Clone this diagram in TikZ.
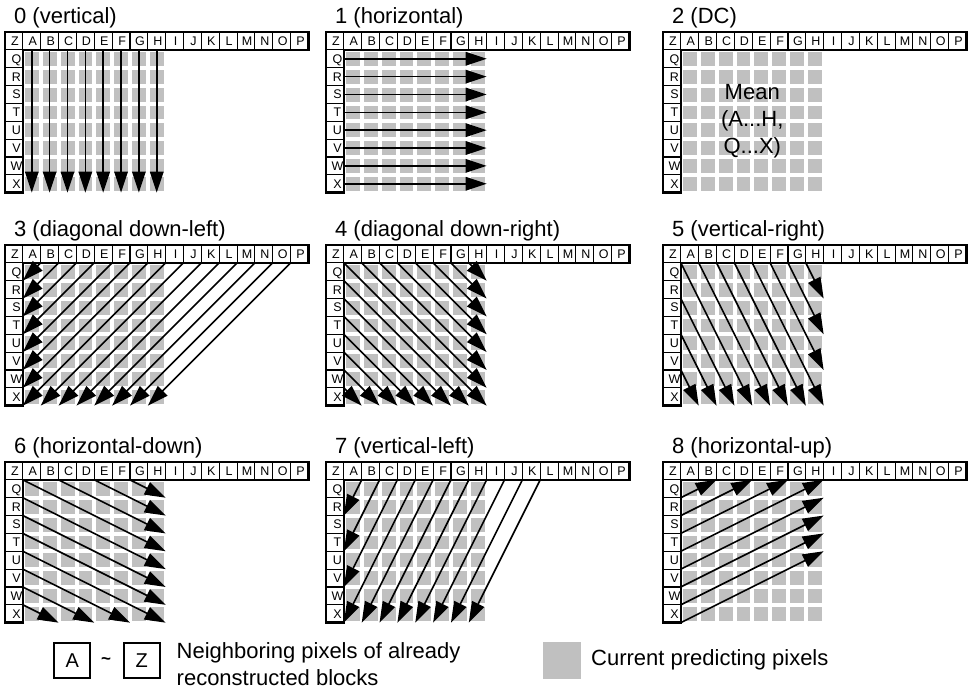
\documentclass[tikz,border=0pt]{standalone}
\usepackage{fontspec}
\setmainfont{Liberation Sans}
\usetikzlibrary{arrows.meta}
\definecolor{pixgray}{HTML}{C0C0C0}
\tikzset{
  arr/.style={line width=1.6pt, -{Triangle[length=21pt,width=13.5pt]}},
  thinline/.style={line width=1.1pt},
  thickline/.style={line width=2.4pt, line join=miter},
  letter/.style={inner sep=0pt, text height=9pt, text depth=0pt, font=\fontsize{12.5}{13}\selectfont},
  paneltitle/.style={anchor=base west, inner sep=0pt, font=\fontsize{22}{26}\selectfont},
  legendtext/.style={anchor=base west, inner sep=0pt, font=\fontsize{22}{26}\selectfont},
  legbox/.style={draw, line width=1.7pt, minimum width=36pt, minimum height=35pt, inner sep=0pt, font=\fontsize{20}{21}\selectfont},
  panelat/.style 2 args={xshift=#1pt, yshift=-#2pt, x=17.85pt, y=-17.85pt},
}
\newcommand\drawpanel[4]{%
  \begin{scope}[panelat={#1}{#2}]
    \node[paneltitle] (#3title) at (0.5,-0.45) {#4};
    \foreach \i in {1,...,8}{\foreach \j in {1,...,8}{
      \fill[pixgray] (\i+0.12,\j+0.12) rectangle +(0.78,0.78);}}
    \foreach \n in {1,...,16}{\draw[thinline] (\n,0) -- (\n,1);}
    \foreach \m in {1,...,8}{\draw[thinline] (0,\m) -- (1,\m);}
    \draw[thickline] (0,0) -- (17,0) -- (17,1) -- (1,1) -- (1,9) -- (0,9) -- cycle;
    \foreach \k [count=\n from 0] in {Z,A,B,C,D,E,F,G,H,I,J,K,L,M,N,O,P}{
      \node[letter] (#3h\k) at (\n+0.56,0.5) {\k};}
    \foreach \k [count=\m from 1] in {Q,R,S,T,U,V,W,X}{
      \node[letter] (#3v\k) at (0.64,\m+0.5) {\k};}
  \end{scope}}
\begin{document}
\begin{tikzpicture}[x=1pt,y=-1pt]
\useasboundingbox (0,0) rectangle (971,690);
\fill[white] (0,0) rectangle (971,690);

% row 1
\drawpanel{5}{32}{pa}{0 (vertical)}
\drawpanel{326}{32}{pb}{1 (horizontal)}
\drawpanel{663}{32}{pc}{2 (DC)}
% row 2
\drawpanel{5}{245}{pd}{3 (diagonal down-left)}
\drawpanel{326}{245}{pe}{4 (diagonal down-right)}
\drawpanel{663}{245}{pf}{5 (vertical-right)}
% row 3
\drawpanel{5}{462}{pg}{6 (horizontal-down)}
\drawpanel{326}{462}{ph}{7 (vertical-left)}
\drawpanel{663}{462}{pi}{8 (horizontal-up)}

% 0 vertical
\begin{scope}[panelat={5}{32}]
  \foreach \i in {1,...,8}{\draw[arr] (\i+0.5,1) -- (\i+0.5,9);}
\end{scope}
% 1 horizontal
\begin{scope}[panelat={326}{32}]
  \foreach \j in {1,...,8}{\draw[arr] (1,\j+0.5) -- (9,\j+0.5);}
\end{scope}
% 2 DC
\begin{scope}[panelat={663}{32}]
  \node[align=center, inner sep=0pt, font=\fontsize{22}{27}\selectfont] (pcmean) at (5,5) {Mean\\(A...H,\\Q...X)};
\end{scope}
% 3 diagonal down-left
\begin{scope}[panelat={5}{245}]
  \foreach \s in {2,...,9}{\draw[arr] (\s,1) -- (1,\s);}
  \foreach \s in {10,...,16}{\draw[arr] (\s,1) -- (\s-8,9);}
\end{scope}
% 4 diagonal down-right
\begin{scope}[panelat={326}{245}]
  \draw[arr] (1,1) -- (9,9);
  \foreach \k in {2,...,8}{
    \draw[arr] (\k,1) -- (9,10-\k);
    \draw[arr] (1,\k) -- (10-\k,9);}
\end{scope}
% 5 vertical-right
\begin{scope}[panelat={663}{245}]
  \foreach \k in {1,...,5}{\draw[arr] (\k,1) -- (\k+4,9);}
  \foreach \k in {6,7,8}{\draw[arr] (\k,1) -- (9,19-2*\k);}
  \foreach \m in {3,5,7}{\draw[arr] (1,\m) -- ({1+(9-\m)/2},9);}
\end{scope}
% 6 horizontal-down
\begin{scope}[panelat={5}{462}]
  \foreach \k in {1,...,5}{\draw[arr] (1,\k) -- (9,\k+4);}
  \foreach \k in {6,7,8}{\draw[arr] (1,\k) -- (19-2*\k,9);}
  \foreach \m in {3,5,7}{\draw[arr] (\m,1) -- (9,{1+(9-\m)/2});}
\end{scope}
% 7 vertical-left
\begin{scope}[panelat={326}{462}]
  \foreach \s in {2,...,5}{\draw[arr] (\s,1) -- (1,2*\s-1);}
  \foreach \s in {6,...,12}{\draw[arr] (\s,1) -- (\s-4,9);}
\end{scope}
% 8 horizontal-up
\begin{scope}[panelat={663}{462}]
  \foreach \k in {2,...,5}{\draw[arr] (1,\k) -- (2*\k-1,1);}
  \foreach \k in {6,...,9}{\draw[arr] (1,\k) -- (9,\k-4);}
\end{scope}

% legend
\node[legbox] (legA) at (72.3,660.7) {A};
\node[inner sep=0pt, font=\fontsize{17}{18}\selectfont\bfseries] (legtilde) at (106,661) {\textasciitilde};
\node[legbox] (legZ) at (141.7,660.7) {Z};
\node[legendtext] (legt1) at (176.5,658) {Neighboring pixels of already};
\node[legendtext] (legt2) at (176.5,685) {reconstructed blocks};
\node[fill=pixgray, minimum width=38pt, minimum height=37pt, inner sep=0pt] (leggray) at (562,660.5) {};
\node[legendtext] (legt3) at (591,665.5) {Current predicting pixels};
\end{tikzpicture}
\end{document}
